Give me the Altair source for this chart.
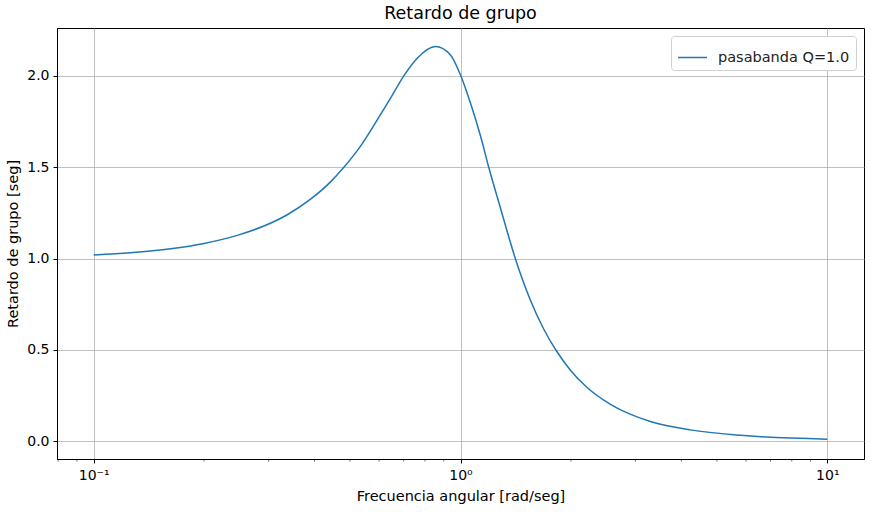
import altair as alt
import pandas as pd

# Frequencies (rad/s) and group delay (s)
freq = [0.1, 0.126, 0.1622, 0.1998, 0.2463, 0.2911, 0.3371, 0.3902, 0.4422, 0.4809,
        0.5339, 0.5929, 0.6446, 0.7005, 0.7621, 0.8548, 0.9392, 1.0, 1.065, 1.134,
        1.194, 1.285, 1.412, 1.551, 1.687, 1.827, 1.994, 2.214, 2.563, 2.9, 3.294,
        4.234, 5.794, 10.0]
delay = [1.02, 1.032, 1.054, 1.083, 1.127, 1.178, 1.24, 1.325, 1.42, 1.5,
         1.616, 1.759, 1.878, 2.0, 2.097, 2.161, 2.115, 2.005, 1.85, 1.671,
         1.5, 1.277, 0.998, 0.772, 0.613, 0.494, 0.389, 0.294, 0.202, 0.148, 0.108,
         0.062, 0.032, 0.011]
series_name = "pasabanda Q=1.0"

x_major = [0.1, 1.0, 10.0]
x_minor = [0.08, 0.09, 0.2, 0.3, 0.4, 0.5, 0.6, 0.7, 0.8, 0.9,
           2, 3, 4, 5, 6, 7, 8, 9]
y_ticks = [0.0, 0.5, 1.0, 1.5, 2.0]

W, H = 807, 431
x_dom = [10 ** -1.1, 10 ** 1.1]
y_dom = [-0.0975, 2.2625]

df = pd.DataFrame({"w": freq, "tau": delay, "serie": series_name})
minor_df = pd.DataFrame({"w": x_minor})

xscale = alt.Scale(type="log", domain=x_dom, nice=False)
yscale = alt.Scale(domain=y_dom, nice=False, zero=False)

line = alt.Chart(df).mark_line(strokeWidth=1.5, interpolate="monotone", clip=True).encode(
    x=alt.X("w:Q", scale=xscale,
            axis=alt.Axis(values=x_major, title="Frecuencia angular [rad/seg]",
                          labelExpr="round(log(datum.value)/LN10) == -1 ? '10⁻¹' : round(log(datum.value)/LN10) == 0 ? '10⁰' : '10¹'",
                          grid=True, tickSize=4, labelPadding=5, titlePadding=7)),
    y=alt.Y("tau:Q", scale=yscale,
            axis=alt.Axis(values=y_ticks, format=".1f", title="Retardo de grupo [seg]",
                          grid=True, tickSize=4, labelPadding=4, titlePadding=6)),
    color=alt.Color("serie:N", scale=alt.Scale(range=["#1f77b4"]),
                    legend=alt.Legend(title=None, orient="top-right", offset=8,
                                      symbolType="stroke", symbolSize=841,
                                      symbolStrokeWidth=1.5, labelFontSize=14.5,
                                      labelOffset=10, padding=6,
                                      fillColor="white", strokeColor="#d0d0d0",
                                      cornerRadius=3, labelFont="DejaVu Sans",
                                      labelColor="#222222")),
)

minor = alt.Chart(minor_df).mark_rule(color="black", strokeWidth=0.6).encode(
    x=alt.X("w:Q", scale=xscale),
    y=alt.value(H),
    y2=alt.value(H + 2.5),
)

chart = alt.layer(minor, line).properties(
    width=W, height=H,
    background="white",
    title=alt.TitleParams("Retardo de grupo", fontSize=17.5, fontWeight="normal",
                          font="DejaVu Sans", color="black", offset=6),
    autosize=alt.AutoSizeParams(type="none"),
    padding={"left": 57, "top": 28, "right": 7, "bottom": 53},
).configure_axis(
    labelFont="DejaVu Sans", titleFont="DejaVu Sans",
    labelFontSize=14, titleFontSize=14.5, titleFontWeight="normal",
    labelColor="black", titleColor="black",
    domainColor="black", tickColor="black", domainWidth=1,
    gridColor="#b0b0b0", gridWidth=0.8,
).configure_view(
    stroke="black", strokeWidth=1,
)

chart.save("out.html", embed_options={"renderer": "svg", "actions": False})
